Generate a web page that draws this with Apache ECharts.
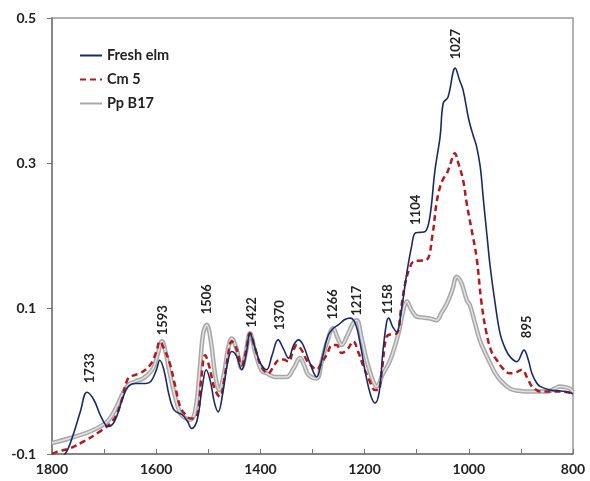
<!DOCTYPE html>
<html>
<head>
<meta charset="utf-8">
<script src="https://cdn.jsdelivr.net/npm/echarts@6/dist/echarts.min.js"></script>
<style>
  html, body { margin: 0; padding: 0; background: #fff; }
  #chart { width: 590px; height: 481px; }
</style>
</head>
<body>
<div id="chart"></div>
<script>
// wavenumber (cm-1) / absorbance
const elmWn  = [1800,1775,1760,1745,1733,1720,1705,1692,1680,1665,1655,1640,1620,1610,1600,1593,1585,1575,1565,1550,1540,1532,1522,1512,1504,1496,1488,1481,1472,1463,1455,1446,1436,1428,1420,1410,1400,1388,1378,1366,1356,1346,1336,1327,1318,1305,1292,1282,1270,1260,1250,1238,1228,1218,1208,1198,1188,1180,1172,1165,1158,1154,1146,1138,1130,1119,1110,1103,1094,1084,1075,1065,1055,1049,1040,1026,1018,1011,1000,991,985,978,972,965,959,950,940,930,921,908,894,886,879,870,863,844,830,815,800];
const elmAbs = [-0.115,-0.100,-0.075,-0.040,-0.015,-0.025,-0.050,-0.062,-0.055,-0.025,-0.008,-0.003,-0.003,0.000,0.015,0.029,0.015,-0.020,-0.040,-0.046,-0.055,-0.065,-0.055,-0.010,0.016,0.000,-0.030,-0.042,-0.015,0.025,0.041,0.035,0.016,0.035,0.066,0.045,0.025,0.016,0.035,0.057,0.045,0.032,0.050,0.057,0.050,0.025,0.006,0.030,0.063,0.073,0.078,0.085,0.087,0.080,0.050,0.010,-0.020,-0.030,-0.015,0.040,0.080,0.087,0.075,0.068,0.095,0.149,0.185,0.204,0.205,0.206,0.225,0.290,0.337,0.383,0.391,0.431,0.415,0.401,0.360,0.337,0.323,0.295,0.250,0.200,0.158,0.110,0.066,0.045,0.034,0.027,0.043,0.030,0.011,-0.002,-0.007,-0.012,-0.013,-0.014,-0.017];

const cmWn  = [1800,1791,1765,1740,1708,1682,1668,1654,1640,1631,1612,1600,1593,1585,1574,1564,1554,1545,1535,1522,1514,1506,1498,1488,1478,1468,1460,1455,1446,1436,1428,1420,1410,1398,1385,1375,1366,1356,1346,1338,1330,1320,1311,1300,1292,1283,1273,1262,1254,1244,1232,1222,1212,1202,1190,1180,1174,1166,1158,1148,1138,1130,1122,1114,1106,1095,1081,1070,1062,1055,1048,1042,1035,1027,1020,1011,1004,995,985,976,966,956,946,935,921,910,898,888,879,870,863,845,825,810,800];
const cmAbs = [-0.100,-0.097,-0.092,-0.083,-0.069,-0.053,-0.030,0.004,0.009,0.011,0.022,0.040,0.055,0.045,0.025,-0.005,-0.035,-0.045,-0.051,-0.048,0.000,0.036,0.020,-0.010,-0.021,0.010,0.045,0.055,0.045,0.022,0.040,0.066,0.045,0.020,0.011,0.020,0.029,0.030,0.027,0.040,0.050,0.042,0.029,0.020,0.016,0.025,0.036,0.050,0.050,0.039,0.045,0.055,0.040,0.020,0.000,-0.012,-0.012,0.020,0.061,0.065,0.066,0.100,0.135,0.155,0.165,0.166,0.167,0.200,0.245,0.268,0.280,0.286,0.300,0.314,0.300,0.277,0.245,0.210,0.170,0.110,0.066,0.040,0.029,0.018,0.011,0.012,0.016,0.005,-0.007,-0.012,-0.014,-0.014,-0.014,-0.015,-0.017];

const ppWn  = [1800,1765,1727,1698,1686,1676,1665,1654,1640,1625,1606,1596,1589,1582,1574,1564,1554,1545,1535,1525,1516,1510,1503,1495,1487,1479,1470,1462,1455,1446,1436,1428,1420,1410,1398,1388,1372,1350,1336,1324,1316,1308,1292,1283,1273,1260,1252,1244,1232,1222,1215,1206,1196,1186,1177,1165,1151,1135,1125,1119,1110,1100,1090,1081,1072,1062,1052,1042,1032,1023,1014,1004,998,990,979,969,959,950,940,921,905,889,851,835,825,815,806,800];
const ppAbs = [-0.085,-0.078,-0.069,-0.058,-0.048,-0.035,-0.018,-0.005,0.000,0.004,0.018,0.040,0.055,0.040,0.011,-0.020,-0.044,-0.050,-0.053,-0.040,0.020,0.065,0.078,0.055,0.010,-0.012,0.010,0.045,0.059,0.045,0.018,0.040,0.066,0.040,0.015,0.011,0.006,0.006,0.018,0.032,0.022,0.009,0.004,0.025,0.052,0.073,0.060,0.050,0.065,0.080,0.084,0.060,0.029,0.005,-0.007,0.010,0.029,0.066,0.100,0.110,0.098,0.089,0.088,0.087,0.086,0.084,0.095,0.107,0.125,0.144,0.135,0.112,0.105,0.085,0.057,0.040,0.025,0.012,0.002,-0.010,-0.013,-0.014,-0.014,-0.010,-0.007,-0.008,-0.010,-0.015];

// band labels: text, and where the text sits (wavenumber, absorbance)
const peakNames = ['1733','1593','1506','1422','1370','1266','1217','1158','1104','1027','895'];
const peakLabelX = [1727,1587,1502,1416,1362,1261,1215,1155,1101,1025,888];
const peakLabelY = [0.018,0.084,0.113,0.095,0.091,0.106,0.111,0.113,0.236,0.464,0.075];

const yTicks = [-0.1, 0.1, 0.3, 0.5];
const xLabels = [1800, 1600, 1400, 1200, 1000, 800];

const zip = (a, b) => a.map((v, i) => [v, b[i]]);
const font = 'Lato, "Open Sans", sans-serif';

const chart = echarts.init(document.getElementById('chart'));
chart.setOption({
    animation: false,
    textStyle: { fontFamily: font },
    grid: {
        left: 52, right: 17, top: 18, bottom: 27,
        show: true, borderColor: '#999', borderWidth: 1.5
    },
    legend: {
        data: ['Fresh elm', 'Cm 5', 'Pp B17'],
        orient: 'vertical',
        left: 74, top: 43,
        itemWidth: 22, itemHeight: 14, itemGap: 9,
        itemStyle: { opacity: 0 },
        textStyle: { fontSize: 14.5, fontWeight: 'bold', color: '#222', fontFamily: font }
    },
    xAxis: {
        type: 'value', inverse: true,
        min: 800, max: 1800, interval: 100,
        axisLine: { onZero: false, lineStyle: { color: '#777', width: 1.5 } },
        axisTick: { inside: true, length: 5, lineStyle: { color: '#777' } },
        axisLabel: {
            customValues: xLabels,
            formatter: v => String(v),
            margin: 8, fontSize: 14, fontWeight: 'bold', color: '#222'
        },
        splitLine: { show: false }
    },
    yAxis: {
        type: 'value',
        min: -0.1, max: 0.5, interval: 0.1,
        axisLine: { show: true, onZero: false, lineStyle: { color: '#777', width: 1.5 } },
        axisTick: { show: true, customValues: yTicks, length: 5, lineStyle: { color: '#777' } },
        axisLabel: {
            customValues: yTicks,
            margin: 16, fontSize: 14, fontWeight: 'bold', color: '#222',
            formatter: v => v.toFixed(1)
        },
        splitLine: { show: false }
    },
    series: [
        {
            name: 'Pp B17', type: 'line', data: zip(ppWn, ppAbs),
            symbol: 'none', smooth: 0.4,
            lineStyle: { color: '#a8a8a8', width: 4.5 },
            itemStyle: { color: '#a8a8a8' }
        },
        {
            name: 'Pp B17 core', type: 'line', data: zip(ppWn, ppAbs),
            symbol: 'none', smooth: 0.4, silent: true,
            lineStyle: { color: '#e2e2e2', width: 1.5 }
        },
        {
            name: 'Cm 5', type: 'line', data: zip(cmWn, cmAbs),
            symbol: 'none', smooth: 0.4,
            lineStyle: { color: '#b5191c', width: 2.5, type: [6, 4] },
            itemStyle: { color: '#b5191c' }
        },
        {
            name: 'Fresh elm', type: 'line', data: zip(elmWn, elmAbs),
            symbol: 'none', smooth: 0.4,
            lineStyle: { color: '#1b2a66', width: 1.6 },
            itemStyle: { color: '#1b2a66' },
            markPoint: {
                symbol: 'circle', symbolSize: 1,
                itemStyle: { color: 'transparent' },
                label: {
                    show: true, position: 'inside', rotate: 90,
                    formatter: p => p.name,
                    fontSize: 13, fontWeight: 'bold', color: '#222', fontFamily: font
                },
                data: peakNames.map((n, i) => ({ name: n, coord: [peakLabelX[i], peakLabelY[i]] }))
            }
        }
    ]
});
</script>
</body>
</html>
